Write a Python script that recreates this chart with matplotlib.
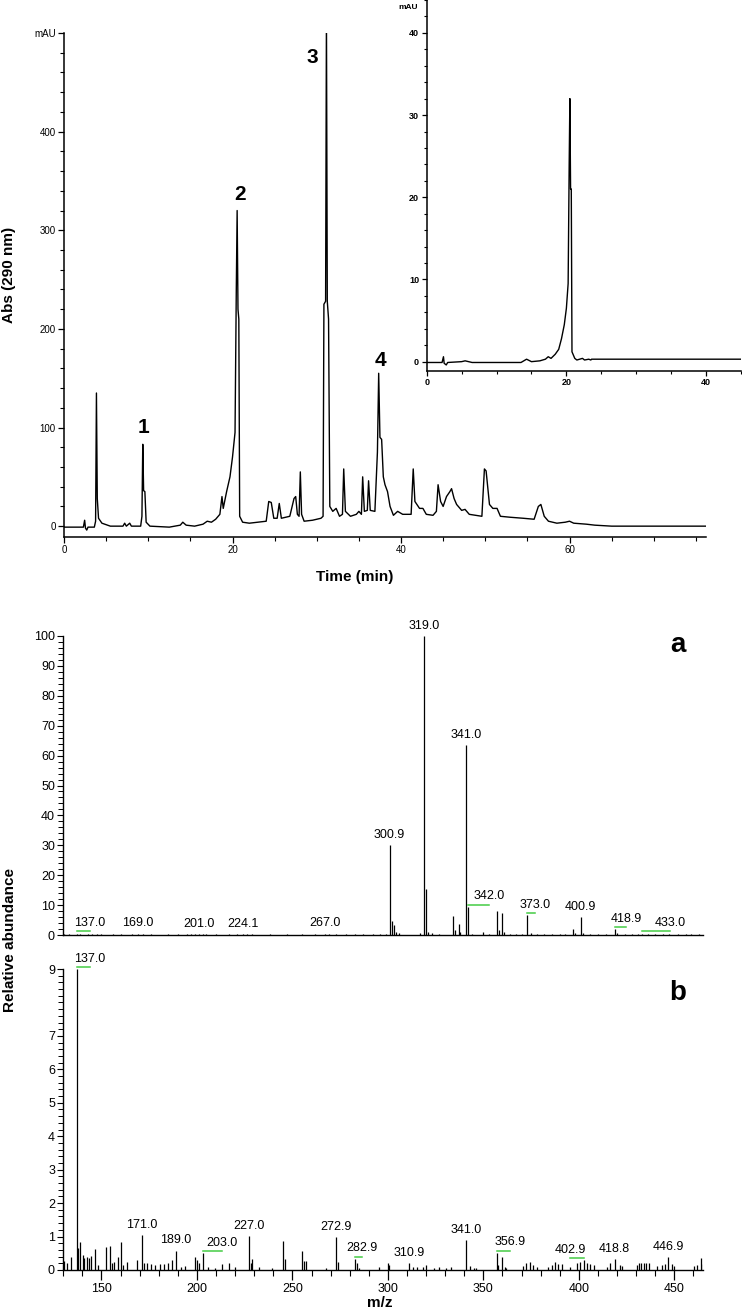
import numpy as np
import matplotlib.pyplot as plt
import matplotlib.transforms as mtransforms
from matplotlib.ticker import MultipleLocator

plt.rcParams['font.family'] = ['Liberation Sans', 'DejaVu Sans']

# HPLC trace at 290 nm (time in min, mAU)
time_min = [0.0, 2.3, 2.45, 2.55, 2.7, 2.85, 3.6, 3.75, 3.85, 3.95, 4.1, 4.5, 5.5,
            7.0, 7.2, 7.4, 7.8, 8.0, 9.1, 9.25, 9.35, 9.45, 9.6, 9.75, 10.2, 12.5,
            13.8, 14.1, 14.5, 15.5, 16.5, 17.0, 17.5, 18.0, 18.5, 18.75, 18.9, 19.3,
            19.7, 20.0, 20.3, 20.45, 20.55, 20.65, 20.75, 20.85, 21.2, 22.0, 23.0,
            24.0, 24.3, 24.6, 24.9, 25.3, 25.55, 25.8, 26.8, 27.3, 27.5, 27.7, 27.9,
            28.05, 28.2, 28.5, 29.5, 30.5, 30.75, 30.85, 31.05, 31.15, 31.25, 31.4,
            31.55, 31.9, 32.3, 32.7, 33.05, 33.2, 33.4, 34.0, 34.7, 35.0, 35.3, 35.45,
            35.65, 36.0, 36.15, 36.35, 36.9, 37.2, 37.35, 37.5, 37.7, 37.9, 38.1, 38.4,
            38.7, 39.1, 39.6, 40.2, 41.2, 41.45, 41.65, 42.2, 42.6, 43.0, 43.8, 44.2,
            44.4, 44.7, 45.0, 45.4, 45.8, 46.0, 46.3, 46.6, 47.2, 47.6, 48.1, 49.6,
            49.9, 50.1, 50.5, 50.9, 51.4, 51.8, 53.0, 54.5, 55.8, 56.3, 56.6, 57.0,
            57.5, 58.5, 59.5, 60.0, 60.5, 62.0, 63.0, 65.0, 76.2]
abs_mau = [-1, -1, 6, -2, -4, -1, -1, 5, 135, 28, 8, 3, 0,
           0, 3, 0, 3, 0, 0, 10, 83, 36, 35, 4, 0, -1,
           1, 4, 1, 0, 2, 5, 4, 7, 12, 30, 18, 35,
           50, 70, 95, 240, 320, 220, 210, 10, 4, 3, 4,
           5, 25, 24, 8, 8, 23, 8, 10, 28, 30, 12, 10,
           55, 12, 5, 6, 8, 10, 225, 228, 520, 228, 210,
           20, 15, 18, 10, 12, 58, 15, 10, 12, 15, 12, 50,
           15, 16, 46, 16, 15, 75, 155, 90, 88, 50, 42, 35,
           20, 11, 15, 12, 12, 58, 25, 18, 18, 12, 11, 15,
           42, 25, 20, 30, 35, 38, 28, 22, 16, 17, 12, 10,
           58, 56, 22, 18, 18, 10, 9, 8, 7, 20, 22, 10,
           5, 3, 4, 5, 3, 2, 1, 0, 0]

# inset trace
inset_time = [0, 2.2, 2.4, 2.5, 2.8, 3.0, 5.0, 5.5, 6.5, 13.5, 14.3, 15.0, 16.2, 17.0,
              17.4, 17.8, 18.4, 18.9, 19.3, 19.7, 20.0, 20.25, 20.4, 20.5, 20.6, 20.7,
              20.8, 21.2, 21.5, 22.3, 22.6, 23.2, 23.5, 23.6, 45]
inset_mau = [-0.1, -0.1, 0.6, -0.2, -0.4, -0.1, 0.0, 0.1, -0.1, -0.1, 0.3, 0.0, 0.1, 0.3,
             0.6, 0.4, 0.9, 1.5, 2.8, 4.5, 6.5, 9.5, 24, 32, 21, 21,
             1.2, 0.4, 0.2, 0.4, 0.2, 0.3, 0.2, 0.3, 0.3]

peak_names = ['1', '2', '3', '4']

# ESI-MS spectra (m/z, relative abundance)
mz_a = [130.5, 133, 137.0, 139, 143, 145, 147.5, 150, 156, 160, 166, 169.0, 172, 176,
        185, 190, 195, 197, 199, 201.0, 203, 205, 210, 217, 221, 224.1, 226, 229,
        238, 247, 255, 262, 267.0, 269, 273, 278, 283, 287, 292, 296, 299, 300.9,
        302, 303, 304, 306, 317, 319.0, 320, 321, 323, 327, 334, 335, 337, 338,
        341.0, 342.0, 344, 350, 353, 357, 358, 360, 361, 364, 367, 370, 373.0, 375,
        378, 382, 386, 390, 393, 397, 398, 400.9, 402, 406, 410, 414, 418.9, 420,
        424, 428, 431, 433.0, 436, 440, 444, 447, 452, 456, 459, 463]
rel_a = [0.3, 0.2, 0.5, 0.3, 0.3, 0.3, 0.3, 0.2, 0.3, 0.2, 0.3, 0.5, 0.3, 0.2,
         0.3, 0.3, 0.3, 0.4, 0.3, 0.4, 0.3, 0.4, 0.2, 0.3, 0.3, 0.4, 0.3, 0.2,
         0.2, 0.2, 0.2, 0.3, 0.5, 0.4, 0.3, 0.3, 0.4, 0.3, 0.3, 0.4, 0.3, 30,
         4.8, 3.3, 1.1, 0.6, 0.6, 100, 15.3, 1.1, 0.6, 0.4, 6.4, 1.7, 3.6, 1.1,
         63.5, 9.5, 0.5, 1.1, 0.5, 8.1, 1.7, 7.2, 1.1, 0.4, 0.4, 0.4, 6.8, 0.8,
         0.4, 0.3, 0.3, 0.3, 0.3, 1.9, 0.6, 6.0, 0.6, 0.3, 0.3, 0.3, 2.1, 0.6,
         0.3, 0.3, 0.3, 0.5, 0.3, 0.3, 0.3, 0.3, 0.3, 0.3, 0.3, 0.3]
labels_a = ['137.0', '169.0', '201.0', '224.1', '267.0', '300.9', '319.0', '341.0',
            '342.0', '373.0', '400.9', '418.9', '433.0']

mz_b = [130.2, 131.9, 134.0, 137.0, 137.7, 138.6, 140.2, 141.0, 142.4, 143.3, 144.5,
        146.8, 148.1, 152.4, 154.5, 155.6, 156.8, 158.6, 160.3, 161.4, 163.5, 168.8,
        171.0, 172.3, 174.0, 176.1, 177.9, 180.5, 182.8, 184.9, 187.0, 189.0, 191.6,
        193.7, 198.9, 200.0, 201.0, 203.0, 206.0, 209.5, 213.0, 216.8, 220.0, 227.0,
        228.1, 228.8, 232.3, 239.3, 244.9, 246.3, 255.1, 256.1, 257.2, 267.4, 272.9,
        274.0, 282.9, 283.7, 284.9, 295.4, 299.8, 300.7, 310.9, 313.0, 315.0, 318.2,
        320.0, 324.3, 327.0, 330.5, 333.1, 341.0, 343.1, 344.9, 346.3, 356.9, 357.9,
        360.0, 361.2, 362.1, 370.8, 372.6, 374.3, 376.1, 377.9, 384.0, 385.8, 387.5,
        389.3, 391.0, 395.4, 398.9, 400.7, 402.9, 404.2, 405.6, 407.7, 414.7, 416.5,
        418.8, 421.4, 422.6, 430.5, 431.4, 432.6, 434.0, 435.2, 436.6, 441.0, 443.6,
        445.4, 446.9, 448.9, 449.8, 460.3, 461.7, 464.2, 464.9]
rel_b = [0.28, 0.2, 0.38, 9.0, 0.65, 0.85, 0.45, 0.35, 0.38, 0.35, 0.42,
         0.62, 0.15, 0.7, 0.72, 0.22, 0.25, 0.38, 0.85, 0.15, 0.25, 0.3,
         1.05, 0.22, 0.2, 0.18, 0.15, 0.18, 0.18, 0.22, 0.3, 0.58, 0.1,
         0.13, 0.38, 0.3, 0.2, 0.5, 0.1, 0.07, 0.18, 0.22, 0.1, 1.02,
         0.22, 0.32, 0.1, 0.07, 0.88, 0.32, 0.58, 0.28, 0.27, 0.07, 0.98,
         0.25, 0.34, 0.2, 0.07, 0.1, 0.22, 0.15, 0.2, 0.1, 0.1, 0.1,
         0.15, 0.05, 0.1, 0.07, 0.08, 0.9, 0.12, 0.07, 0.05, 0.52, 0.15,
         0.38, 0.1, 0.05, 0.12, 0.2, 0.25, 0.15, 0.1, 0.1, 0.15, 0.25,
         0.18, 0.18, 0.1, 0.2, 0.25, 0.3, 0.2, 0.17, 0.15, 0.1, 0.22,
         0.32, 0.15, 0.12, 0.15, 0.22, 0.22, 0.22, 0.22, 0.2, 0.12, 0.15,
         0.18, 0.38, 0.18, 0.12, 0.12, 0.15, 0.35, 0.18]
labels_b = ['137.0', '171.0', '189.0', '203.0', '227.0', '272.9', '282.9', '310.9',
            '341.0', '356.9', '402.9', '418.8', '446.9']

# labels moved sideways in the original (m/z units), drawn with a green leader
shift_a = {'137.0': 7, '342.0': 11, '373.0': 4, '418.9': 6, '433.0': 15}
shift_b = {'137.0': 7, '203.0': 10, '282.9': 3.5, '356.9': 7, '402.9': -7.5}

W, H = 742, 1313
fig = plt.figure(figsize=(W / 100, H / 100), dpi=100)


def box(l, t, r, b):
    return [l / W, 1 - b / H, (r - l) / W, (b - t) / H]


def clean(ax, lw=1.1):
    for s in ['top', 'right']:
        ax.spines[s].set_visible(False)
    for s in ['left', 'bottom']:
        ax.spines[s].set_linewidth(lw)


# --- chromatogram ---
ax = fig.add_axes(box(64, 33, 706, 537))
ax.plot(time_min, abs_mau, color='black', lw=1.0)
ax.set_xlim(0, 76.2)
ax.set_ylim(-11, 500)
ax.set_xticks([0, 20, 40, 60])
ax.xaxis.set_minor_locator(MultipleLocator(5))
ax.set_yticks([0, 100, 200, 300, 400, 500])
ax.set_yticklabels(['0', '100', '200', '300', '400', 'mAU'])
ax.yaxis.set_minor_locator(MultipleLocator(20))
ax.tick_params(which='major', length=4, width=0.9, labelsize=7, pad=2)
ax.tick_params(which='minor', length=3, width=0.8)
clean(ax)
for name, t, y in zip(peak_names, [9.4, 20.9, 29.5, 37.5], [100, 336, 475, 168]):
    ax.text(t, y, name, fontsize=15, fontweight='bold', ha='center', va='center')
fig.text(355 / W, 1 - 577 / H, 'Time (min)', fontsize=11, fontweight='bold',
         ha='center', va='center')
fig.text(9 / W, 1 - 275 / H, 'Abs (290 nm)', fontsize=11, fontweight='bold',
         rotation=90, ha='center', va='center')

# --- inset ---
axi = fig.add_axes(box(426.7, 0, 741, 370.7))
axi.patch.set_alpha(0)
axi.plot(inset_time, inset_mau, color='black', lw=1.0)
axi.set_xlim(0, 45)
axi.set_ylim(-1.1, 44)
axi.set_xticks([0, 20, 40])
axi.xaxis.set_minor_locator(MultipleLocator(5))
axi.set_yticks([0, 10, 20, 30, 40])
axi.yaxis.set_minor_locator(MultipleLocator(2))
axi.tick_params(which='major', length=3.5, width=0.9, labelsize=6.5, pad=2)
axi.tick_params(which='minor', length=2.5, width=0.8)
for lab in axi.get_xticklabels() + axi.get_yticklabels():
    lab.set_fontweight('bold')
axi.text(-1.2, 43.1, 'mAU', fontsize=6, fontweight='bold', ha='right', va='center')
clean(axi)


# --- mass spectra ---
def spectrum(ax, mz, rel, labels, shifts):
    ax.vlines(mz, 0, rel, color='black', lw=0.9)
    ax.set_xlim(130, 465.2)
    clean(ax, 1.0)
    up = mtransforms.ScaledTranslation(0, 3 / 72, fig.dpi_scale_trans)
    green = mtransforms.ScaledTranslation(0, 1.5 / 72, fig.dpi_scale_trans)
    for lab in labels:
        m = float(lab)
        h = rel[mz.index(m)]
        dx = shifts.get(lab, 0)
        ax.text(m + dx, h, lab, fontsize=9, ha='center', va='bottom',
                transform=ax.transData + up, clip_on=False)
        if dx:
            ax.plot([m, m + dx], [h, h], color='#44cc44', lw=1.1,
                    transform=ax.transData + green, clip_on=False)


axa = fig.add_axes(box(63.3, 636, 703.3, 935))
spectrum(axa, mz_a, rel_a, labels_a, shift_a)
axa.set_ylim(0, 100)
axa.set_yticks(np.arange(0, 101, 10))
axa.yaxis.set_minor_locator(MultipleLocator(2))
axa.tick_params(axis='x', bottom=False, labelbottom=False)
axa.tick_params(axis='y', which='major', length=4.5, width=0.8, labelsize=9, pad=1.5)
axa.tick_params(axis='y', which='minor', length=3.5, width=0.7)
axa.text(0.96, 0.97, 'a', transform=axa.transAxes, fontsize=20, fontweight='bold',
         ha='center', va='center')

axb = fig.add_axes(box(63.3, 969, 703.3, 1270))
spectrum(axb, mz_b, rel_b, labels_b, shift_b)
axb.set_ylim(0, 9)
axb.set_yticks([0, 1, 2, 3, 4, 5, 6, 7, 9])
axb.yaxis.set_minor_locator(MultipleLocator(0.2))
axb.set_xticks([150, 200, 250, 300, 350, 400, 450])
axb.xaxis.set_minor_locator(MultipleLocator(10))
axb.tick_params(axis='x', which='major', length=7, width=0.9, labelsize=9, pad=2)
axb.tick_params(axis='x', which='minor', length=4.5, width=0.8)
axb.tick_params(axis='y', which='major', length=4.5, width=0.8, labelsize=9, pad=1.5)
axb.tick_params(axis='y', which='minor', length=3.5, width=0.7)
axb.text(0.96, 0.92, 'b', transform=axb.transAxes, fontsize=20, fontweight='bold',
         ha='center', va='center')

fig.text(380 / W, 1 - 1303 / H, 'm/z', fontsize=11, fontweight='bold',
         ha='center', va='center')
fig.text(10 / W, 1 - 940 / H, 'Relative abundance', fontsize=11, fontweight='bold',
         rotation=90, ha='center', va='center')

fig.savefig('out.png', dpi=100)
